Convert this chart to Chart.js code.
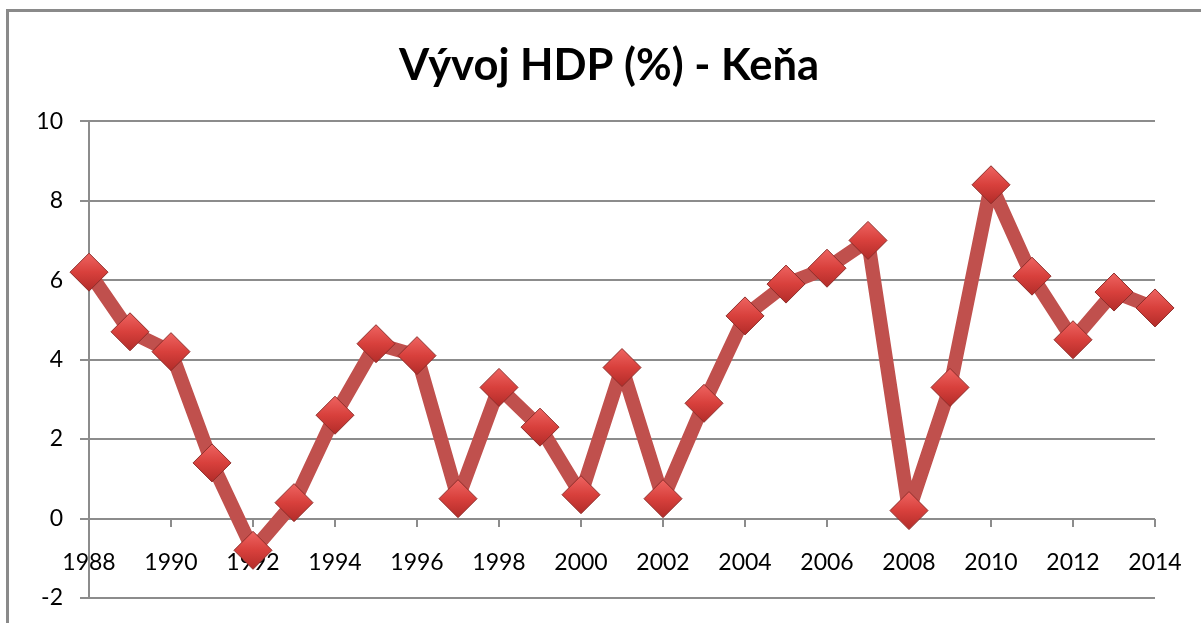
<!DOCTYPE html>
<html>
<head>
<meta charset="utf-8">
<script src="https://cdn.jsdelivr.net/npm/chart.js@4"></script>
<style>
  html, body { margin: 0; padding: 0; background: #fff; overflow: hidden; }
  #wrap { position: relative; width: 1201px; height: 623px; }
  #frame { position: absolute; left: 6px; top: 9px; width: 1400px; height: 900px;
           border: 3px solid #8a8a8a; pointer-events: none; }
</style>
</head>
<body>
<div id="wrap">
  <canvas id="myChart" width="1201" height="623"></canvas>
  <div id="frame"></div>
</div>
<script>
// Vývoj HDP Keňa
const years = ['1988', '1989', '1990', '1991', '1992', '1993', '1994', '1995', '1996', '1997',
               '1998', '1999', '2000', '2001', '2002', '2003', '2004', '2005', '2006', '2007',
               '2008', '2009', '2010', '2011', '2012', '2013', '2014'];
const gdpGrowth = [6.2, 4.7, 4.2, 1.4, -0.8, 0.4, 2.6, 4.4, 4.1, 0.5,
                   3.3, 2.3, 0.6, 3.8, 0.5, 2.9, 5.1, 5.9, 6.3, 7.0,
                   0.2, 3.3, 8.4, 6.1, 4.5, 5.7, 5.3];
const yTicks = [-2, 0, 2, 4, 6, 8, 10];

const FONT = 'Lato, "Open Sans", sans-serif';
const GRID = '#8c8c8c';
const MARKER_R = 19;

// shaded diamond marker (lighter on top like the Excel one)
function markerFill(c) {
    const chart = c.chart;
    const yScale = chart.scales.y;
    if (!yScale || !c.parsed) return '#d63e3b';
    const y = yScale.getPixelForValue(c.parsed.y);
    if (!isFinite(y)) return '#d63e3b';
    const g = chart.ctx.createLinearGradient(0, y - MARKER_R, 0, y + MARKER_R);
    g.addColorStop(0, '#ee6461');
    g.addColorStop(0.5, '#d8403c');
    g.addColorStop(1, '#b22c29');
    return g;
}

//---------------------------------------------------------------------------
const ctx = document.getElementById('myChart');
new Chart(ctx, {
    type: 'line',
    data: {
        labels: years,
        datasets: [{
            label: 'HDP',
            data: gdpGrowth,
            borderColor: '#c0504d',
            borderWidth: 14,
            borderJoinStyle: 'bevel',
            tension: 0,
            pointStyle: 'rectRot',
            pointRadius: MARKER_R,
            pointHoverRadius: MARKER_R,
            pointBackgroundColor: markerFill,
            pointBorderColor: '#8e2d2a',
            pointBorderWidth: 1
        }]
    },
    options: {
        responsive: false,
        animation: false,
        // left padding shifts the title centre to match the original
        layout: { padding: { top: 0, left: 17, right: 0, bottom: 0 } },
        plugins: {
            legend: { display: false },
            tooltip: { enabled: false },
            title: {
                display: true,
                text: 'Vývoj HDP (%) - Keňa',
                color: '#000',
                font: { family: FONT, size: 43.5, weight: 'bold', lineHeight: 1.2 },
                padding: { top: 40, bottom: 29 }
            }
        },
        scales: {
            x: {
                type: 'category',
                offset: false,
                position: { y: 0 },
                afterFit: (scale) => {
                    scale.paddingLeft = 0;
                    scale.paddingRight = 46;
                    scale.paddingTop = 0;
                    scale.paddingBottom = 25;
                },
                grid: {
                    drawOnChartArea: false,
                    drawTicks: true,
                    tickLength: 8,
                    lineWidth: 2,
                    color: (c) => (c.index % 2 === 0 ? GRID : 'rgba(0,0,0,0)')
                },
                border: { display: false },
                ticks: {
                    autoSkip: false,
                    maxRotation: 0,
                    padding: 22,
                    color: '#000',
                    font: { family: FONT, size: 23 },
                    callback: function (v, i) { return i % 2 === 0 ? years[i] : ''; }
                }
            },
            y: {
                min: -2,
                max: 10,
                afterFit: (scale) => {
                    scale.width = 72;
                    scale.paddingTop = 0;
                    scale.paddingBottom = 0;
                },
                afterBuildTicks: (scale) => { scale.ticks = yTicks.map(v => ({ value: v })); },
                grid: { color: GRID, lineWidth: 2, tickLength: 9 },
                border: { display: true, color: GRID, width: 2 },
                ticks: {
                    padding: 17,
                    color: '#000',
                    font: { family: FONT, size: 23 }
                }
            }
        }
    }
});
</script>
</body>
</html>
